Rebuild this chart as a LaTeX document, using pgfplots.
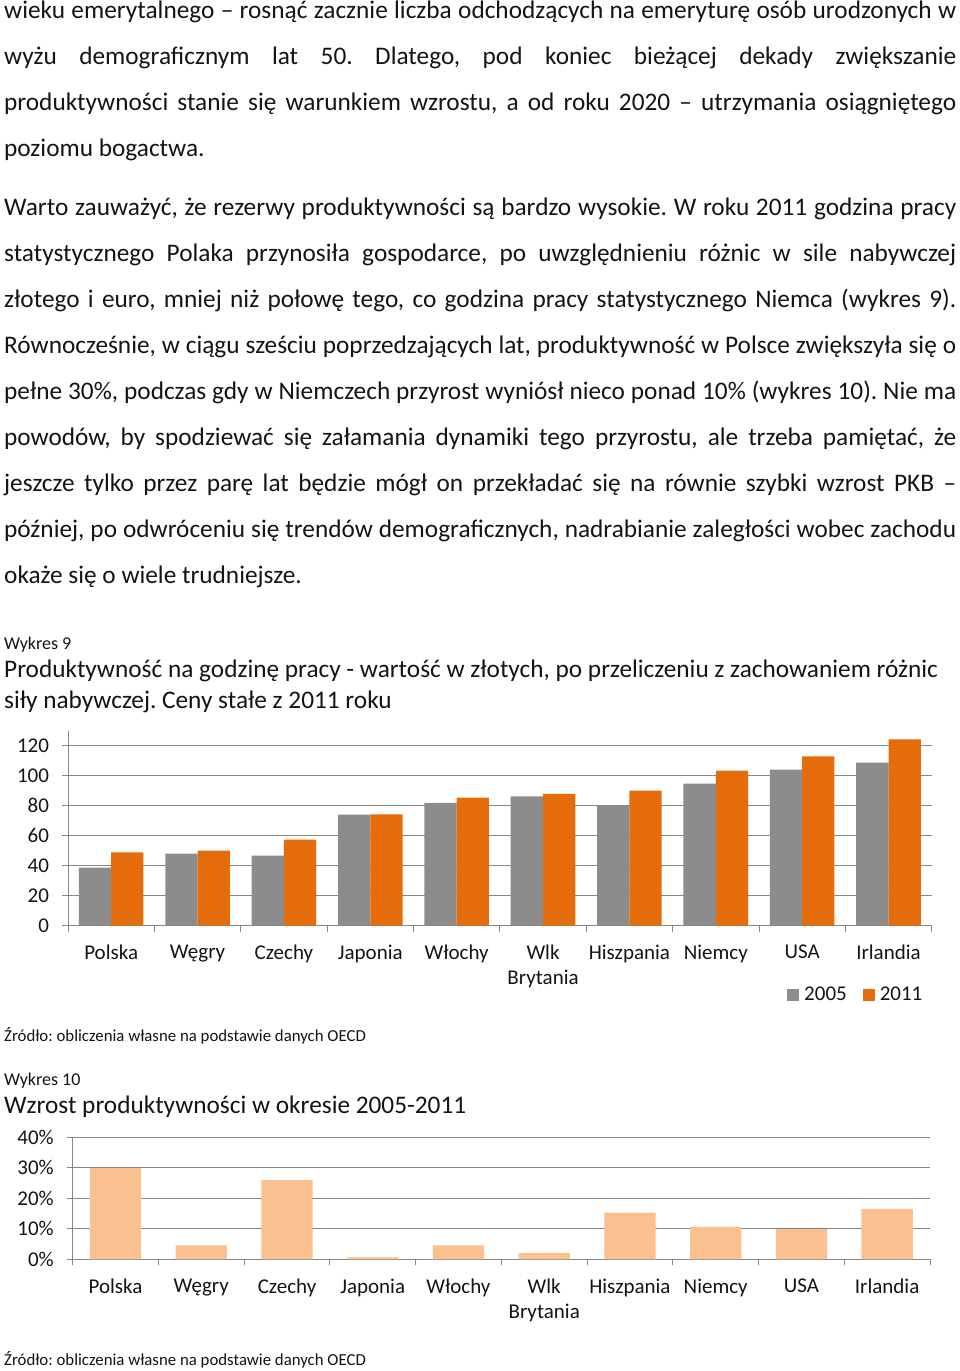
\documentclass[border=0pt]{standalone}
\usepackage{pgfplots}
\pgfplotsset{compat=1.18}
\usepackage{fontspec}
\setmainfont{Carlito}
\frenchspacing
\definecolor{g05}{RGB}{140,140,140}
\definecolor{o11}{RGB}{228,108,10}
\definecolor{peach}{RGB}{250,192,144}
\definecolor{gridg}{RGB}{134,134,134}
\definecolor{txt}{RGB}{20,20,20}
\newcommand\bodyf{\fontsize{25.3bp}{30bp}\selectfont}
\newcommand\jline[2]{\node[anchor=base west,inner sep=0pt,text=txt] at (4bp,#1bp) {\bodyf\makebox[952bp][s]{#2}};}
\newcommand\lline[2]{\node[anchor=base west,inner sep=0pt,text=txt] at (4bp,#1bp) {\bodyf #2};}
\pgfplotstableread{
x v05 v11
0 38.7 48.9
1 48.0 50.0
2 46.7 57.3
3 74.0 74.2
4 81.8 85.3
5 86.2 87.8
6 80.0 90.0
7 94.7 103.3
8 104.0 112.9
9 108.7 124.2
}\wyktab
\pgfplotstableread{
x g
0 29.9
1 4.6
2 26.0
3 0.65
4 4.6
5 2.0
6 15.3
7 10.6
8 9.9
9 16.5
}\wzrtab
\pgfplotsset{
  pagechart/.style={
    scale only axis,
    xmin=-0.5, xmax=9.5, ymin=0,
    axis x line*=bottom, axis y line*=left,
    axis line style={gridg, line width=0.9bp},
    ymajorgrids, grid style={gridg, line width=0.9bp},
    tick align=outside, major tick length=6bp,
    tick style={gridg, line width=0.9bp},
    xtick={-0.5,0.5,...,9.5}, xticklabels={},
    extra x ticks={0,...,9},
    extra x tick labels={Polska,Węgry,Czechy,Japonia,Włochy,Wlk\\Brytania,Hiszpania,Niemcy,USA,Irlandia},
    extra x tick style={major tick length=0pt, grid=none,
      tick label style={font=\fontsize{21bp}{25bp}\selectfont, align=center, anchor=north, yshift=-16bp, text=txt}},
    yticklabel style={font=\fontsize{21bp}{25bp}\selectfont, text=txt, xshift=-9.5bp},
    /pgf/number format/assume math mode=true,
  }
}
\begin{document}
\begin{tikzpicture}
\path[use as bounding box,fill=white] (0bp,0bp) rectangle (960bp,1371bp);
% paragraph 1
\jline{1352.5}{wieku emerytalnego – rosnąć zacznie liczba odchodzących na emeryturę osób urodzonych w}
\jline{1306.5}{wyżu demograficznym lat 50. Dlatego, pod koniec bieżącej dekady zwiększanie}
\jline{1260.5}{produktywności stanie się warunkiem wzrostu, a od roku 2020 – utrzymania osiągniętego}
\lline{1214.5}{poziomu bogactwa.}
% paragraph 2
\jline{1155.5}{Warto zauważyć, że rezerwy produktywności są bardzo wysokie. W roku 2011 godzina pracy}
\jline{1109.5}{statystycznego Polaka przynosiła gospodarce, po uwzględnieniu różnic w sile nabywczej}
\jline{1063.5}{złotego i euro, mniej niż połowę tego, co godzina pracy statystycznego Niemca (wykres 9).}
\jline{1017.5}{Równocześnie, w ciągu sześciu poprzedzających lat, produktywność w Polsce zwiększyła się o}
\jline{971.5}{pełne 30\%, podczas gdy w Niemczech przyrost wyniósł nieco ponad 10\% (wykres 10). Nie ma}
\jline{925.5}{powodów, by spodziewać się załamania dynamiki tego przyrostu, ale trzeba pamiętać, że}
\jline{879.5}{jeszcze tylko przez parę lat będzie mógł on przekładać się na równie szybki wzrost PKB –}
\jline{833.5}{później, po odwróceniu się trendów demograficznych, nadrabianie zaległości wobec zachodu}
\lline{787.5}{okaże się o wiele trudniejsze.}
% headings
\node[anchor=base west,inner sep=0pt,text=txt] at (4bp,721bp) {\fontsize{18bp}{21bp}\selectfont Wykres 9};
\node[anchor=base west,inner sep=0pt,text=txt] at (4bp,693bp) {\fontsize{25.3bp}{30bp}\selectfont Produktywność na godzinę pracy - wartość w złotych, po przeliczeniu z zachowaniem różnic};
\node[anchor=base west,inner sep=0pt,text=txt] at (4bp,662bp) {\fontsize{25.3bp}{30bp}\selectfont siły nabywczej. Ceny stałe z 2011 roku};
\node[anchor=base west,inner sep=0pt,text=txt] at (4bp,329bp) {\fontsize{16.8bp}{20bp}\selectfont Źródło: obliczenia własne na podstawie danych OECD};
\node[anchor=base west,inner sep=0pt,text=txt] at (4bp,285bp) {\fontsize{18bp}{21bp}\selectfont Wykres 10};
\node[anchor=base west,inner sep=0pt,text=txt] at (4bp,257bp) {\fontsize{25.3bp}{30bp}\selectfont Wzrost produktywności w okresie 2005-2011};
\node[anchor=base west,inner sep=0pt,text=txt] at (4bp,6bp) {\fontsize{16.8bp}{20bp}\selectfont Źródło: obliczenia własne na podstawie danych OECD};
% chart 9
\begin{axis}[pagechart,
  at={(68bp,445.3bp)}, anchor=south west,
  width=863.7bp, height=195bp, ymax=130,
  ytick={0,20,...,120},
  ybar=0pt, bar width=32.3bp,
  legend style={at={(0.8325,-0.355)}, anchor=west, draw=none, fill=none,
    inner sep=0pt, legend columns=2, font=\fontsize{21bp}{25bp}\selectfont,
    text=txt,
    /tikz/every even column/.append style={column sep=14bp}},
  legend image code/.code={\fill[#1] (0bp,-6bp) rectangle (12bp,6bp); \path (0bp,0bp) -- (15bp,0bp);},
]
\addplot[fill=g05, draw=none] table[x=x,y=v05] {\wyktab};
\addplot[fill=o11, draw=none] table[x=x,y=v11] {\wyktab};
\legend{2005,2011}
\end{axis}
% chart 10
\begin{axis}[pagechart,
  at={(72.7bp,111.7bp)}, anchor=south west,
  width=857.3bp, height=122bp, ymax=40,
  ytick={0,10,...,40},
  yticklabel={\pgfmathprintnumber{\tick}\%},
  ybar, bar width=51.3bp,
]
\addplot[fill=peach, draw=none] table[x=x,y=g] {\wzrtab};
\end{axis}
\end{tikzpicture}
\end{document}
